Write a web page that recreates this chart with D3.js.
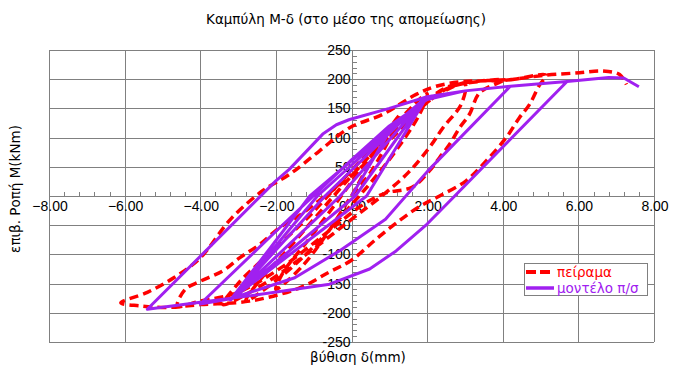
<!DOCTYPE html>
<html>
<head>
<meta charset="utf-8">
<script src="https://cdn.jsdelivr.net/npm/d3@7"></script>
<style>
  body { margin: 0; background: #fff; }
  text { font-family: Arial, "Liberation Sans", sans-serif; }
  text.greek { font-family: "DejaVu Sans", sans-serif; }
</style>
</head>
<body>
<svg id="chart" width="688" height="379"></svg>
<script>
// Texts
const title = "Καμπύλη Μ-δ (στο μέσο της απομείωσης)";
const xLabel = "βύθιση δ(mm)";
const yLabel = "επιβ. Ροπή M(kNm)";
const seriesNames = ["πείραμα", "μοντέλο π/σ"];

// Ticks
const xTicks = [-8, -6, -4, -2, 0, 2, 4, 6, 8];
const yTicks = [-250, -200, -150, -100, -50, 50, 100, 150, 200, 250];

// Experiment (δ mm, M kNm), cycle by cycle
const expCycle1 = [[0, 0], [0.6, 70], [1.0, 115], [1.3, 140], [1.1, 110], [0.5, 40], [0, 0], [-0.6, -60], [-1.3, -120], [-2.0, -160]];
const expCycle2 = [[-1.8, -130], [-1.2, -80], [-0.5, -20], [0.3, 50], [1.2, 125], [2.0, 175], [1.8, 140], [1.2, 80], [0.6, 30], [0, -15], [-0.9, -80], [-1.9, -140], [-2.8, -180]];
const expCycle3 = [[-2.5, -150], [-1.8, -100], [-1.0, -40], [-0.2, 20], [0.8, 90], [1.8, 150], [2.4, 178], [3.0, 192], [2.9, 157], [2.42, 117], [2.06, 83], [1.5, 40], [0.8, 0], [0, -40], [-1.2, -100], [-2.3, -150], [-3.4, -186]];
const expCycle4 = [[-3.0, -150], [-2.2, -100], [-1.2, -40], [-0.2, 30], [1.0, 110], [2.0, 165], [2.6, 188], [3.3, 196], [4.0, 198], [3.39, 177], [3.12, 140], [2.86, 117], [2.59, 88], [2.33, 66], [2.06, 43], [1.6, 15], [0.9, 5], [0.3, -15], [-0.6, -60], [-1.8, -120], [-3.0, -165], [-4.0, -180], [-4.6, -188]];
const expCycle5 = [[-4.4, -160], [-4.0, -146], [-3.4, -128], [-2.96, -106], [-2.43, -83], [-1.9, -54], [-1.46, -37], [-0.8, -5], [0, 35], [1.0, 95], [2.0, 160], [2.6, 186], [3.5, 197], [4.3, 200], [5.15, 207], [4.97, 190], [4.71, 157], [4.44, 134], [4.09, 100], [3.56, 60], [3.03, 26], [2.33, 0], [1.8, -18], [1.27, -42], [0.65, -74], [0.0, -110], [-0.58, -130], [-1.4, -158], [-2.7, -180], [-4.0, -186], [-4.9, -191], [-5.6, -188], [-6.1, -183]];
const expCycle6 = [[-5.4, -165], [-4.7, -140], [-4.0, -106], [-3.2, -40], [-2.35, 9], [-1.64, 37], [-0.85, 77], [-0.05, 117], [0.83, 140], [1.71, 174], [2.24, 188], [2.95, 196], [4.0, 198], [5.15, 207], [6.03, 211], [6.65, 214], [7.09, 208], [7.27, 191]];

// Model (δ mm, M kNm), cycle by cycle
const modCycle1 = [[0, 0], [1.0, 110], [2.0, 170], [0.4, 0], [-3.2, -178]];
const modCycle2 = [[-1.1, 0], [2.0, 170], [0.1, 0], [-3.2, -178]];
const modCycle3 = [[-0.7, 0], [2.0, 170], [-0.3, 0], [-3.2, -178]];
const modCycle4 = [[-0.9, 0], [2.0, 170], [3.0, 180], [4.2, 188], [2.02, 43], [0.9, -40], [-0.32, -94], [-1.5, -140], [-3.2, -176], [-4.0, -185]];
const modCycle5 = [[-1.99, -60], [0.0, 62], [1.0, 120], [2.0, 165], [3.0, 180], [4.2, 188], [5.7, 196], [2.73, 0], [2.0, -48], [1.18, -94], [0.48, -125], [-0.58, -151], [-2.7, -171], [-4.0, -182], [-5.4, -194]];
const modCycle6 = [[-2.0, 26], [-1.64, 46], [-0.76, 106], [-0.4, 122], [-0.05, 131], [1.0, 150], [2.0, 170], [3.0, 180], [4.2, 188], [5.7, 196], [6.8, 203], [7.2, 202], [7.6, 187]];

const experiment = [].concat(expCycle1, expCycle2, expCycle3, expCycle4, expCycle5, expCycle6);
const model = [].concat(modCycle1, modCycle2, modCycle3, modCycle4, modCycle5, modCycle6);

const red = "#ff0000";
const purple = "#a020f0";
const gridColor = "#808080";

const svg = d3.select("#chart");

const x = d3.scaleLinear().domain([-8, 8]).range([49, 654]);
const y = d3.scaleLinear().domain([-250, 250]).range([342, 50]);

// Title
svg.append("text")
	.attr("class", "greek")
	.attr("x", 346)
	.attr("y", 24)
	.attr("text-anchor", "middle")
	.attr("font-size", 13.5)
	.text(title);

// Grid
const grid = svg.append("g")
	.attr("stroke", gridColor)
	.attr("stroke-width", 1)
	.attr("shape-rendering", "crispEdges");

grid.selectAll("line.v")
	.data(xTicks)
	.join("line")
	.attr("class", "v")
	.attr("x1", (d) => Math.round(x(d)) + 0.5)
	.attr("x2", (d) => Math.round(x(d)) + 0.5)
	.attr("y1", y(250))
	.attr("y2", y(-250));

grid.selectAll("line.h")
	.data(d3.range(-250, 251, 50))
	.join("line")
	.attr("class", "h")
	.attr("x1", x(-8))
	.attr("x2", x(8))
	.attr("y1", (d) => Math.round(y(d)) + 0.5)
	.attr("y2", (d) => Math.round(y(d)) + 0.5);

// Minor ticks on the axes through the origin
const minorX = d3.range(-8, 8.001, 0.4);
const minorY = d3.range(-250, 250.001, 10);

grid.selectAll("line.mx")
	.data(minorX)
	.join("line")
	.attr("class", "mx")
	.attr("x1", (d) => Math.round(x(d)) + 0.5)
	.attr("x2", (d) => Math.round(x(d)) + 0.5)
	.attr("y1", Math.round(y(0)))
	.attr("y2", Math.round(y(0)) - 4);

grid.selectAll("line.my")
	.data(minorY)
	.join("line")
	.attr("class", "my")
	.attr("x1", Math.round(x(0)))
	.attr("x2", Math.round(x(0)) + 5)
	.attr("y1", (d) => Math.round(y(d)) + 0.5)
	.attr("y2", (d) => Math.round(y(d)) + 0.5);

// Tick labels
svg.append("g")
	.attr("font-size", 14)
	.attr("text-anchor", "middle")
	.selectAll("text")
	.data(xTicks)
	.join("text")
	.attr("x", (d) => x(d) + 1)
	.attr("y", y(0) + 15)
	.text((d) => d3.format(".2f")(d));

svg.append("g")
	.attr("font-size", 14)
	.attr("text-anchor", "end")
	.selectAll("text")
	.data(yTicks)
	.join("text")
	.attr("x", x(0) - 1)
	.attr("y", (d) => y(d) + 5)
	.text((d) => d);

// Axis titles
svg.append("text")
	.attr("class", "greek")
	.attr("transform", `translate(20,${189}) rotate(-90)`)
	.attr("text-anchor", "middle")
	.attr("font-size", 13.5)
	.text(yLabel);

svg.append("text")
	.attr("class", "greek")
	.attr("x", 358)
	.attr("y", 362)
	.attr("text-anchor", "middle")
	.attr("font-size", 13.5)
	.text(xLabel);

// Series
svg.append("clipPath")
	.attr("id", "plot-clip")
	.append("rect")
	.attr("x", x(-8))
	.attr("y", y(250))
	.attr("width", x(8) - x(-8))
	.attr("height", y(-250) - y(250));

const plot = svg.append("g").attr("clip-path", "url(#plot-clip)");

const smoothLine = d3.line()
	.x((d) => x(d[0]))
	.y((d) => y(d[1]))
	.curve(d3.curveCatmullRom.alpha(0.5));

const straightLine = d3.line()
	.x((d) => x(d[0]))
	.y((d) => y(d[1]));

plot.append("path")
	.attr("d", smoothLine(experiment))
	.attr("fill", "none")
	.attr("stroke", red)
	.attr("stroke-width", 3.5)
	.attr("stroke-dasharray", "9,5")
	.attr("stroke-linejoin", "round");

plot.append("path")
	.attr("d", straightLine(model))
	.attr("fill", "none")
	.attr("stroke", purple)
	.attr("stroke-width", 3)
	.attr("stroke-linejoin", "round");

// Legend
const legend = svg.append("g").attr("transform", "translate(524,263)");

legend.append("rect")
	.attr("x", 0.5)
	.attr("y", 0.5)
	.attr("width", 123)
	.attr("height", 32)
	.attr("fill", "#fff")
	.attr("stroke", gridColor);

const legendItems = [
	{ name: seriesNames[0], color: red, dash: "10,4" },
	{ name: seriesNames[1], color: purple, dash: null },
];

const item = legend.selectAll("g.item")
	.data(legendItems)
	.join("g")
	.attr("class", "item")
	.attr("transform", (d, i) => `translate(0,${9 + i * 16})`);

item.append("line")
	.attr("x1", 2)
	.attr("x2", 30)
	.attr("stroke", (d) => d.color)
	.attr("stroke-width", (d, i) => i === 0 ? 4 : 3.5)
	.attr("stroke-dasharray", (d) => d.dash);

item.append("text")
	.attr("class", "greek")
	.attr("x", 33)
	.attr("y", 5)
	.attr("font-size", 13.5)
	.attr("fill", (d) => d.color)
	.text((d) => d.name);
</script>
</body>
</html>
